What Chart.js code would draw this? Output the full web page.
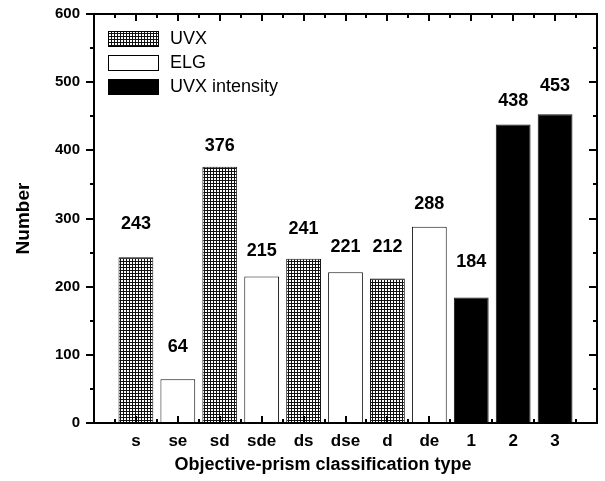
<!DOCTYPE html>
<html>
<head>
<meta charset="utf-8">
<script src="https://cdn.jsdelivr.net/npm/chart.js@4/dist/chart.umd.min.js"></script>
<style>
  html, body { margin: 0; padding: 0; background: #fff; }
  #wrap { width: 605px; height: 481px; }
</style>
</head>
<body>
<div id="wrap"><canvas id="chart"></canvas></div>
<script>
const categories = ['s', 'se', 'sd', 'sde', 'ds', 'dse', 'd', 'de', '1', '2', '3'];
const counts = [243, 64, 376, 215, 241, 221, 212, 288, 184, 438, 453];
const types = ['UVX', 'ELG', 'UVX', 'ELG', 'UVX', 'ELG', 'UVX', 'ELG', 'UVX intensity', 'UVX intensity', 'UVX intensity'];
const typeNames = ['UVX', 'ELG', 'UVX intensity'];

const FONT = '"Liberation Sans", Arial, sans-serif';

// crosshatch fill for the UVX bars
function hatch() {
  const c = document.createElement('canvas');
  c.width = 3; c.height = 3;
  const g = c.getContext('2d');
  g.fillStyle = '#fff';
  g.fillRect(0, 0, 3, 3);
  g.fillStyle = '#111';
  g.fillRect(0, 0, 3, 1);
  g.fillRect(0, 0, 1, 3);
  return document.getElementById('chart').getContext('2d').createPattern(c, 'repeat');
}
const fills = { 'UVX': hatch(), 'ELG': '#fff', 'UVX intensity': '#000' };

// one empty slot on each side, like the original axis 0..12
const labels = [''].concat(categories, ['']);
function seriesFor(name) {
  return [null].concat(counts.map((v, i) => types[i] === name ? v : null), [null]);
}

const frame = {
  id: 'frame',
  afterDraw(chart, args, opts) {
    const { ctx, scales: { x, y } } = chart;
    ctx.save();
    ctx.fillStyle = '#000';
    const L = Math.round(x.getPixelForValue(0)), R = Math.round(x.getPixelForValue(labels.length - 1));
    const T = Math.round(y.getPixelForValue(600)), B = Math.round(y.getPixelForValue(0));
    ctx.fillRect(L - 1, T - 1, R - L + 2, 2);
    ctx.fillRect(L - 1, B - 1, R - L + 2, 2);
    ctx.fillRect(L - 1, T - 1, 2, B - T + 2);
    ctx.fillRect(R - 1, T - 1, 2, B - T + 2);

    // left ticks point out, right ticks point in
    for (let v = 0; v <= 600; v += 50) {
      const py = Math.round(y.getPixelForValue(v));
      const len = v % 100 === 0 ? 8 : 4;
      ctx.fillRect(L - len, py - 1, len, 2);
      ctx.fillRect(R - len, py - 1, len, 2);
    }
    // top and bottom ticks point in
    for (let i = 0; i < labels.length; i++) {
      const px = Math.round(x.getPixelForValue(i));
      ctx.fillRect(px - 1, T, 2, 7);
      ctx.fillRect(px - 1, B - 7, 2, 7);
      if (i < labels.length - 1) {
        const mx = Math.round((x.getPixelForValue(i) + x.getPixelForValue(i + 1)) / 2);
        ctx.fillRect(mx - 1, T, 2, 4);
        ctx.fillRect(mx - 1, B - 4, 2, 4);
      }
    }

    // value labels above the bars
    ctx.font = 'bold 18px ' + FONT;
    ctx.textAlign = 'center';
    ctx.textBaseline = 'middle';
    chart.data.datasets.forEach((ds, di) => {
      chart.getDatasetMeta(di).data.forEach((bar, j) => {
        if (ds.data[j] == null) return;
        ctx.fillText(String(ds.data[j]), bar.x, bar.y - opts.labelGaps[j - 1]);
      });
    });

    // x axis title, set a little left of the plot centre as in the original
    ctx.fillText(opts.xTitle, 323, 465);

    // legend inside the plot
    ctx.textAlign = 'left';
    ctx.font = '18px ' + FONT;
    ctx.lineWidth = 1;
    ctx.strokeStyle = '#000';
    chart.data.datasets.forEach((ds, i) => {
      const top = 31 + i * 24;
      ctx.fillStyle = ds.backgroundColor;
      ctx.fillRect(108, top, 51, 16);
      ctx.strokeRect(108.5, top + 0.5, 50, 15);
      ctx.fillStyle = '#000';
      ctx.fillText(ds.label, 170, top + 8);
    });
    ctx.restore();
  }
};

new Chart(document.getElementById('chart'), {
  type: 'bar',
  data: {
    labels: labels,
    datasets: typeNames.map(name => ({
      label: name,
      data: seriesFor(name),
      backgroundColor: fills[name],
      borderColor: '#111',
      borderWidth: 1,
      borderSkipped: false,
      grouped: false,
      barPercentage: 0.83,
      categoryPercentage: 1
    }))
  },
  options: {
    responsive: true,
    maintainAspectRatio: false,
    devicePixelRatio: 1,
    animation: false,
    layout: { padding: { top: 14, right: 5, left: 0, bottom: 0 } },
    plugins: {
      legend: { display: false },
      tooltip: { enabled: false },
      frame: {
        labelGaps: [33, 32, 21, 25, 30, 25, 31, 23, 36, 23, 28],
        xTitle: 'Objective-prism classification type'
      }
    },
    scales: {
      x: {
        type: 'category',
        offset: false,
        grid: { display: false, drawTicks: false },
        border: { display: false },
        ticks: { color: '#000', font: { family: FONT, size: 17, weight: 'bold' }, padding: 8, maxRotation: 0, autoSkip: false },
        afterFit: s => { s.height = 58; }
      },
      y: {
        min: 0,
        max: 600,
        grid: { display: false, drawTicks: false },
        border: { display: false },
        ticks: { stepSize: 100, color: '#000', font: { family: FONT, size: 15, weight: 'bold' }, padding: 14 },
        title: { display: true, text: 'Number', color: '#000', font: { family: FONT, size: 19, weight: 'bold' }, padding: { top: 12, bottom: 0 } },
        afterFit: s => { s.width = 94; s.paddingTop = 0; }
      }
    }
  },
  plugins: [frame]
});
</script>
</body>
</html>
